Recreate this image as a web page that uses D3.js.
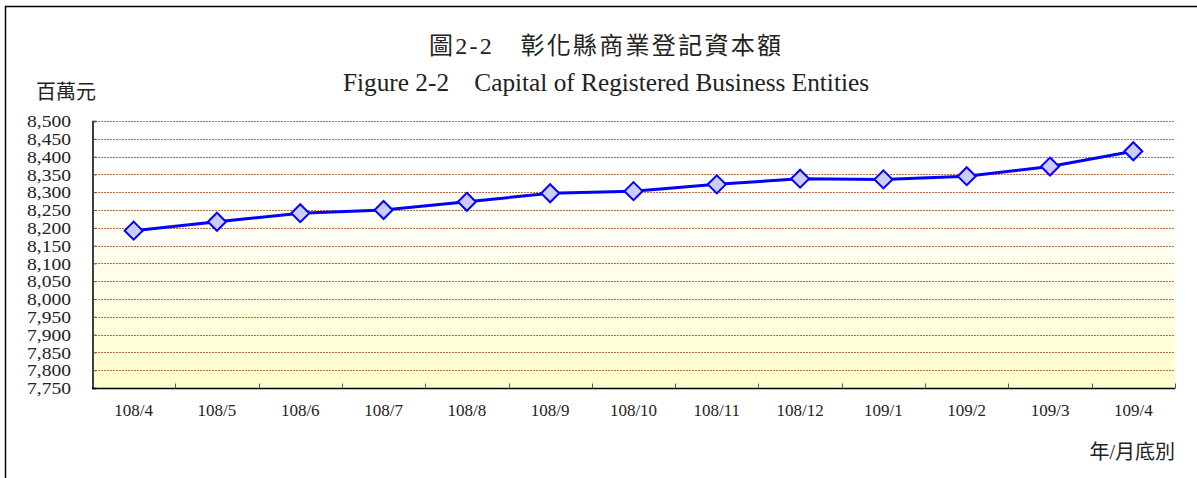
<!DOCTYPE html>
<html>
<head>
<meta charset="utf-8">
<script src="https://cdn.jsdelivr.net/npm/d3@7"></script>
<style>
  body { margin: 0; background: #fff; }
  text { font-family: "Liberation Serif", "Noto Sans CJK TC", serif; fill: #222; }
</style>
</head>
<body>
<div id="chart"></div>
<script>
const width = 1197, height = 478;

// data
const months = ["108/4", "108/5", "108/6", "108/7", "108/8", "108/9", "108/10",
                "108/11", "108/12", "109/1", "109/2", "109/3", "109/4"];
const capital = [8192, 8217, 8241, 8250, 8273, 8297, 8303, 8322, 8338, 8336, 8345, 8372, 8415];
const yTicks = d3.range(7750, 8501, 50);

const margin = {left: 92, right: 22, top: 121, bottom: 90};

const svg = d3.select("#chart").append("svg")
    .attr("width", width)
    .attr("height", height);

// outer frame (left and top only visible)
svg.append("path")
    .attr("d", "M5.5," + height + "V6.5H" + width)
    .attr("fill", "none")
    .attr("stroke", "#000")
    .attr("stroke-width", 1.5);

const x = d3.scaleBand()
    .domain(months)
    .range([margin.left, width - margin.right]);

const y = d3.scaleLinear()
    .domain([7750, 8500])
    .range([height - margin.bottom, margin.top]);

const defs = svg.append("defs");
const grad = defs.append("linearGradient")
    .attr("id", "bg")
    .attr("x1", 0).attr("y1", 0).attr("x2", 0).attr("y2", 1);
grad.append("stop").attr("offset", "0%").attr("stop-color", "#ffffff");
grad.append("stop").attr("offset", "30%").attr("stop-color", "#ffffff");
grad.append("stop").attr("offset", "100%").attr("stop-color", "#ffffcc");

svg.append("rect")
    .attr("x", margin.left)
    .attr("y", y(8500))
    .attr("width", x.range()[1] - margin.left)
    .attr("height", y(7750) - y(8500))
    .attr("fill", "url(#bg)");

// gridlines
svg.append("g")
  .selectAll("line")
  .data(yTicks.filter(d => d > 7750))
  .join("line")
    .attr("x1", margin.left)
    .attr("x2", x.range()[1])
    .attr("y1", d => Math.round(y(d)) + 0.5)
    .attr("y2", d => Math.round(y(d)) + 0.5)
    .attr("stroke", "#c0673f")
    .attr("stroke-width", 1)
    .attr("stroke-dasharray", "2,1");

// y axis
const yAxis = svg.append("g")
    .attr("transform", "translate(" + (margin.left + 0.5) + ",0)")
    .call(d3.axisRight(y).tickValues(yTicks).tickSize(4).tickFormat(""));
yAxis.select(".domain").attr("stroke", "#000").attr("stroke-width", 1.5);
yAxis.selectAll(".tick line").attr("stroke", "#555");

svg.append("g")
  .selectAll("text")
  .data(yTicks)
  .join("text")
    .attr("x", 71)
    .attr("y", d => y(d))
    .attr("dy", "0.36em")
    .attr("text-anchor", "end")
    .style("font-size", "17px")
    .attr("textLength", 44)
    .attr("lengthAdjust", "spacingAndGlyphs")
    .text(d => d3.format(",")(d));

// x axis
const xAxis = svg.append("g")
    .attr("transform", "translate(0," + (y(7750) + 0.5) + ")");
xAxis.append("line")
    .attr("x1", margin.left)
    .attr("x2", x.range()[1])
    .attr("stroke", "#000")
    .attr("stroke-width", 1.5);
xAxis.selectAll(".tk")
  .data(months)
  .join("line")
    .attr("class", "tk")
    .attr("x1", d => Math.round(x(d) + x.bandwidth()) + 0.5)
    .attr("x2", d => Math.round(x(d) + x.bandwidth()) + 0.5)
    .attr("y1", 0)
    .attr("y2", -5)
    .attr("stroke", "#555");
xAxis.selectAll("text")
  .data(months)
  .join("text")
    .attr("x", d => x(d) + x.bandwidth() / 2)
    .attr("y", 27)
    .attr("text-anchor", "middle")
    .style("font-size", "17px")
    .text(d => d);

// line and markers
const line = d3.line()
    .x((d, i) => x(months[i]) + x.bandwidth() / 2)
    .y(d => y(d));

svg.append("path")
    .datum(capital)
    .attr("d", line)
    .attr("fill", "none")
    .attr("stroke", "#0000ff")
    .attr("stroke-width", 3);

svg.append("g")
  .selectAll("path")
  .data(capital)
  .join("path")
    .attr("transform", (d, i) => "translate(" + (x(months[i]) + x.bandwidth() / 2) + "," + y(d) + ")")
    .attr("d", "M0,-9L9,0L0,9L-9,0Z")
    .attr("fill", "#ccccff")
    .attr("stroke", "#0000ff")
    .attr("stroke-width", 2);

// titles
svg.append("text")
    .attr("x", 429)
    .attr("y", 54)
    .attr("textLength", 352)
    .attr("lengthAdjust", "spacing")
    .style("font-size", "24px")
    .text("圖2-2　彰化縣商業登記資本額");

svg.append("text")
    .attr("x", 343)
    .attr("y", 91)
    .attr("textLength", 526)
    .attr("lengthAdjust", "spacingAndGlyphs")
    .style("font-size", "25px")
    .text("Figure 2-2　Capital of Registered Business Entities");

svg.append("text")
    .attr("x", 36)
    .attr("y", 99)
    .style("font-size", "20px")
    .text("百萬元");

svg.append("text")
    .attr("x", 1175)
    .attr("y", 459)
    .attr("text-anchor", "end")
    .style("font-size", "20px")
    .text("年/月底別");
</script>
</body>
</html>
